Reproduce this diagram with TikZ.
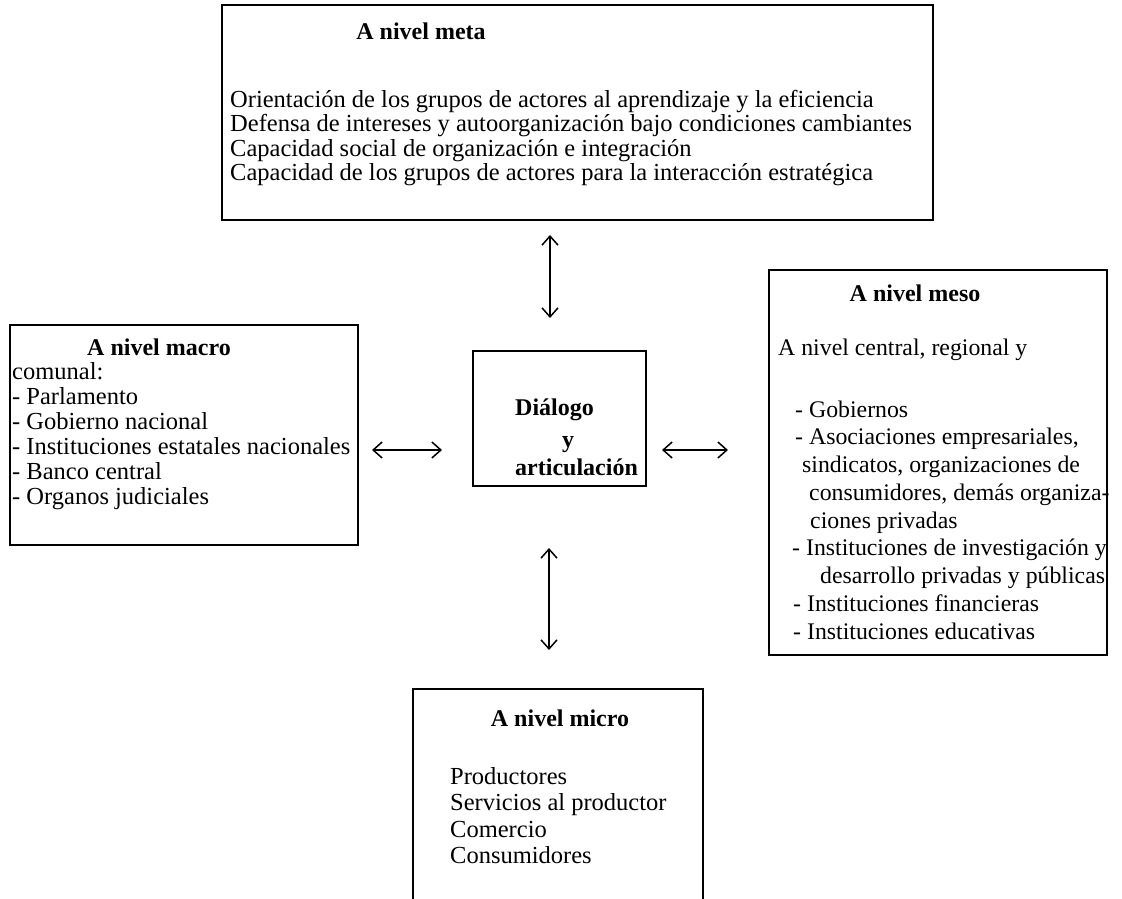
\documentclass[tikz,border=0pt]{standalone}
\usepackage{fontspec}
\setmainfont{Liberation Serif}
\usetikzlibrary{arrows.meta}
\begin{document}
\begin{tikzpicture}[x=1pt,y=-1pt,
  box/.style={draw, line width=1.5pt, inner sep=0pt},
  txt/.style={anchor=base west, inner sep=0pt, font=\fontsize{24.5}{26}\selectfont},
  mtxt/.style={anchor=base west, inner sep=0pt, font=\fontsize{23.8}{26}\selectfont},
  ttl/.style={anchor=base, inner sep=0pt, font=\fontsize{24}{26}\selectfont\bfseries},
  ctr/.style={anchor=base west, inner sep=0pt, font=\fontsize{24}{26}\selectfont\bfseries},
  tip/.tip={Straight Barb[length=9pt,width=16pt,line width=1.5pt]},
  arr/.style={line width=1.5pt, tip-tip}]
\clip (0,0) rectangle (1122,899);
\fill[white] (0,0) rectangle (1122,899);
% boxes
\node[box, minimum width=711pt, minimum height=215pt] (meta) at (577.5,112.5) {};
\node[box, minimum width=348pt, minimum height=220pt] (macro) at (184,435) {};
\node[box, minimum width=173pt, minimum height=135pt] (dial) at (559.5,418.5) {};
\node[box, minimum width=338pt, minimum height=385pt] (meso) at (938,462.5) {};
\node[box, minimum width=290pt, minimum height=240pt] (micro) at (558,809) {};
% meta text
\node[ttl] (metat) at (421,40) {A nivel meta};
\node[txt] (meta1) at (230,107) {Orientación de los grupos de actores al aprendizaje y la eficiencia};
\node[txt] (meta2) at (230,131.5) {Defensa de intereses y autoorganización bajo condiciones cambiantes};
\node[txt] (meta3) at (230,156) {Capacidad social de organización e integración};
\node[txt] (meta4) at (230,180.5) {Capacidad de los grupos de actores para la interacción estratégica};
% macro text
\node[ttl] (macrot) at (159,355) {A nivel macro};
\node[txt] (macro1) at (12,379) {comunal:};
\node[txt] (macro2) at (12,404) {- Parlamento};
\node[txt] (macro3) at (12,429) {- Gobierno nacional};
\node[txt] (macro4) at (12,454) {- Instituciones estatales nacionales};
\node[txt] (macro5) at (12,479) {- Banco central};
\node[txt] (macro6) at (12,504) {- Organos judiciales};
% dialogue
\node[ctr] (d1) at (515,415) {Diálogo};
\node[ctr] (d2) at (562,447) {y};
\node[ctr] (d3) at (515,475) {articulación};
% meso text
\node[ttl] (mesot) at (915,301) {A nivel meso};
\node[mtxt] (meso0) at (778,355) {A nivel central, regional y};
\node[mtxt] (meso1) at (795,417) {- Gobiernos};
\node[mtxt] (meso2) at (795,444.75) {- Asociaciones empresariales,};
\node[mtxt] (meso3) at (802,472.5) {sindicatos, organizaciones de};
\node[mtxt] (meso4) at (809,500.25) {consumidores, demás organiza-};
\node[mtxt] (meso5) at (810,528) {ciones privadas};
\node[mtxt] (meso6) at (792,555.75) {- Instituciones de investigación y};
\node[mtxt] (meso7) at (820,583.5) {desarrollo privadas y públicas};
\node[mtxt] (meso8) at (793,611.25) {- Instituciones financieras};
\node[mtxt] (meso9) at (793,639) {- Instituciones educativas};
% micro text
\node[ttl] (microt) at (560,726) {A nivel micro};
\node[txt] (micro1) at (450,784) {Productores};
\node[txt] (micro2) at (450,810.5) {Servicios al productor};
\node[txt] (micro3) at (450,837) {Comercio};
\node[txt] (micro4) at (450,863.5) {Consumidores};
% arrows
\coordinate (ta) at (550,235);
\coordinate (tb) at (550,318);
\coordinate (la) at (372,450);
\coordinate (lb) at (442,450);
\coordinate (ra) at (662,450);
\coordinate (rb) at (728,450);
\coordinate (ba) at (549,548);
\coordinate (bb) at (549,650);
\draw[arr] (ta) -- (tb);
\draw[arr] (la) -- (lb);
\draw[arr] (ra) -- (rb);
\draw[arr] (ba) -- (bb);
\end{tikzpicture}
\end{document}
